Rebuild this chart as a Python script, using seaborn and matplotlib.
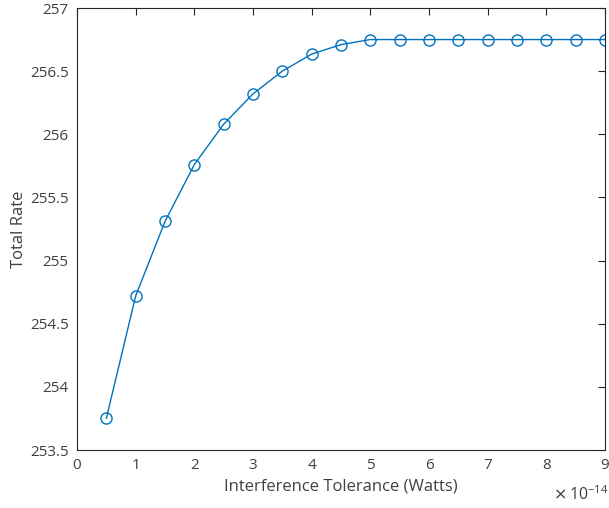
import matplotlib
matplotlib.use("Agg")
import matplotlib.pyplot as plt
import seaborn as sns
import pandas as pd

tolerance = [0.5, 1.0, 1.5, 2.0, 2.5, 3.0, 3.5, 4.0, 4.5, 5.0, 5.5, 6.0, 6.5, 7.0, 7.5, 8.0, 8.5, 9.0]
total_rate = [253.75, 254.72, 255.31, 255.76, 256.08, 256.32, 256.50, 256.635, 256.71, 256.75,
              256.75, 256.75, 256.75, 256.75, 256.75, 256.75, 256.75, 256.75]
xticks = [0, 1, 2, 3, 4, 5, 6, 7, 8, 9]
yticks = [253.5, 254, 254.5, 255, 255.5, 256, 256.5, 257]
ytick_labels = ["253.5", "254", "254.5", "255", "255.5", "256", "256.5", "257"]

sns.set_style("white")
plt.rcParams['font.family'] = ['Open Sans', 'DejaVu Sans']
txt = "#404040"

df = pd.DataFrame({"x": tolerance, "y": total_rate})
fig = plt.figure(figsize=(6.09, 5.08), dpi=100)
ax = fig.add_axes([77/609, 58/508, 528/609, 442/508])
sns.lineplot(data=df, x="x", y="y", ax=ax, color="#0072BD", linewidth=1.0,
             marker="o", markersize=8, markerfacecolor="none",
             markeredgecolor="#0072BD", markeredgewidth=1.0)
ax.set_xlim(0, 9)
ax.set_ylim(253.5, 257)
ax.set_xticks(xticks)
ax.set_xticklabels([str(t) for t in xticks])
ax.set_yticks(yticks)
ax.set_yticklabels(ytick_labels)
ax.tick_params(direction="in", length=5, width=0.8, colors="#262626", labelcolor=txt,
               labelsize=11, top=True, right=True, pad=6)
for s in ax.spines.values():
    s.set_color("#262626")
    s.set_linewidth(0.8)
ax.set_xlabel("Interference Tolerance (Watts)", fontsize=12, color=txt, labelpad=4)
ax.set_ylabel("Total Rate", fontsize=12, color=txt, labelpad=2)
fig.text(553/609, 1 - 495/508, r"$\times\,\mathregular{10^{-14}}$", fontsize=11.5, color=txt,
         ha="left", va="center")
fig.savefig("out.png", dpi=100)
